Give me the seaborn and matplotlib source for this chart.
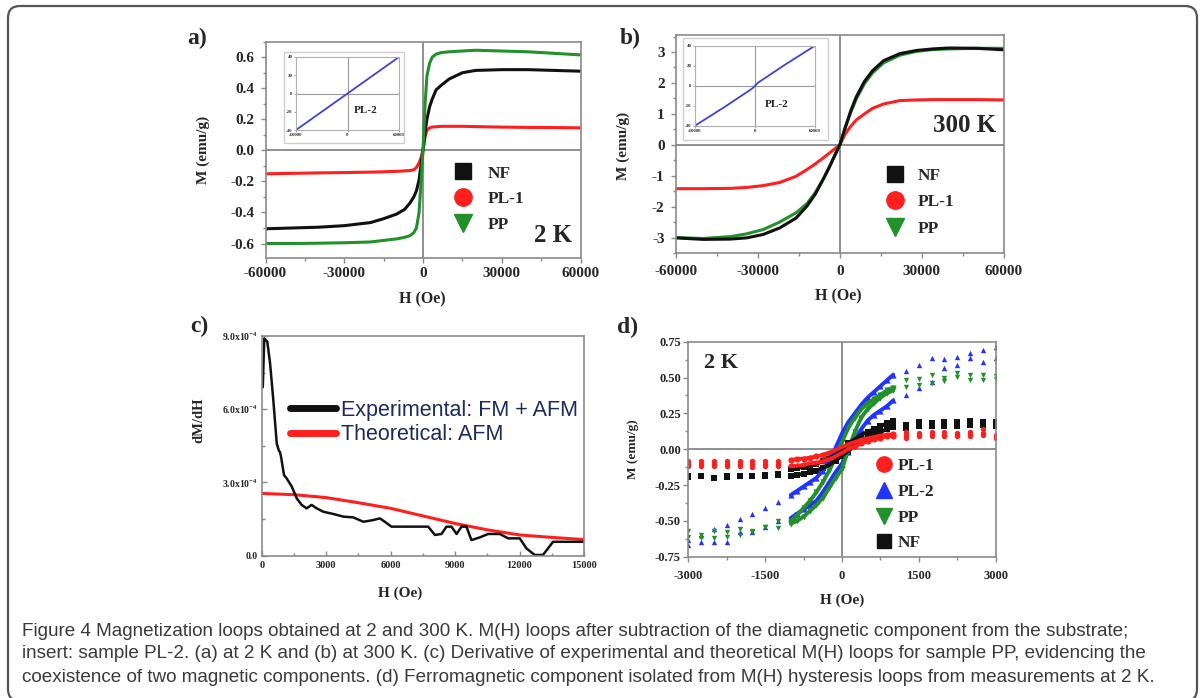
import numpy as np
import pandas as pd
import seaborn as sns
import matplotlib
matplotlib.use("Agg")
import matplotlib.pyplot as plt
from matplotlib.lines import Line2D
from matplotlib.patches import FancyBboxPatch
from matplotlib.ticker import MultipleLocator

# ---------------- DATA ----------------
# Panel a (2 K)
H_a = [-60000, -50000, -40000, -30000, -20000, -15000, -10000, -7000, -5000, -3500, -2500, -1500, -800, 0,
       800, 1500, 2500, 3500, 5000, 7000, 10000, 15000, 20000, 30000, 40000, 50000, 60000]
NF_a = [-0.505, -0.50, -0.495, -0.485, -0.465, -0.44, -0.41, -0.38, -0.34, -0.30, -0.26, -0.19, -0.10, 0.0,
        0.12, 0.20, 0.28, 0.33, 0.39, 0.42, 0.46, 0.50, 0.515, 0.52, 0.52, 0.515, 0.51]
PL1_a = [-0.151, -0.148, -0.145, -0.143, -0.14, -0.138, -0.135, -0.132, -0.13, -0.125, -0.11, -0.08, -0.05, 0.0,
         0.09, 0.13, 0.145, 0.15, 0.152, 0.155, 0.155, 0.155, 0.153, 0.15, 0.148, 0.147, 0.145]
PP_a = [-0.60, -0.60, -0.598, -0.595, -0.59, -0.58, -0.57, -0.56, -0.55, -0.53, -0.50, -0.40, -0.22, 0.0,
        0.30, 0.48, 0.56, 0.60, 0.62, 0.63, 0.635, 0.64, 0.645, 0.64, 0.635, 0.625, 0.615]
# inset (PL-2)
H_ins_a = [-60000, 0, 60000]
M_ins_a = [-40, 0, 40]

# Panel b (300 K)
H_b = [-60000, -50000, -40000, -34000, -28000, -22000, -16000, -12000, -9000, -6000, -4000, -2000, 0,
       2000, 4000, 6000, 9000, 12000, 16000, 22000, 28000, 34000, 40000, 50000, 60000]
NF_b = [-3.01, -3.06, -3.05, -3.01, -2.90, -2.69, -2.37, -1.98, -1.60, -1.10, -0.75, -0.37, 0.0,
        0.57, 1.10, 1.55, 2.05, 2.40, 2.72, 2.95, 3.05, 3.10, 3.13, 3.12, 3.07]
PL1_b = [-1.42, -1.42, -1.41, -1.38, -1.32, -1.22, -1.02, -0.80, -0.62, -0.42, -0.28, -0.14, 0.0,
         0.35, 0.60, 0.80, 1.00, 1.18, 1.32, 1.43, 1.45, 1.46, 1.46, 1.46, 1.45]
PP_b = [-3.00, -3.03, -2.97, -2.88, -2.74, -2.50, -2.20, -1.90, -1.55, -1.10, -0.75, -0.38, 0.0,
        0.55, 1.05, 1.48, 1.98, 2.33, 2.65, 2.90, 3.02, 3.08, 3.10, 3.12, 3.12]
H_ins_b = [-60000, -30000, -3000, 0, 3000, 30000, 60000]
M_ins_b = [-40, -21, -3, 0, 3, 21, 40]

# Panel c (PP derivative, units of 1e-4)
H_c = [0, 50, 120, 260, 390, 540, 700, 800, 850, 900, 1040, 1160, 1400, 1630, 1860, 2090, 2320, 2560, 2870,
       3330, 3800, 4260, 4730, 5190, 5500, 5730, 6040, 6740, 7750, 8060, 8370, 8600, 8830, 9070, 9300, 9530,
       9760, 10150, 10540, 11080, 11470, 12010, 12320, 12710, 13090, 13560, 15000]
dMdH_exp = [7.0, 6.9, 8.9, 8.77, 7.88, 6.38, 4.6, 4.3, 4.25, 4.05, 3.3, 3.17, 2.83, 2.35, 2.08, 1.94, 2.08, 1.94, 1.80,
            1.71, 1.60, 1.57, 1.39, 1.46, 1.53, 1.39, 1.19, 1.19, 1.19, 0.85, 0.89, 1.19, 1.19, 0.89, 1.19, 1.19,
            0.64, 0.75, 0.89, 0.89, 0.71, 0.71, 0.30, 0.03, 0.03, 0.57, 0.57]
H_c_th = [0, 1500, 3000, 4500, 6000, 7500, 9000, 10500, 12000, 13500, 15000]
dMdH_th = [2.55, 2.50, 2.38, 2.17, 1.94, 1.63, 1.32, 1.06, 0.85, 0.75, 0.66]
c_ytick_labels = ["0.0", r"3.0x10$^{\mathbf{-4}}$", r"6.0x10$^{\mathbf{-4}}$", r"9.0x10$^{\mathbf{-4}}$"]

# Panel d (2 K, ferromagnetic component)
H_in = [-1000, -875, -750, -625, -500, -375, -250, -125, 0, 125, 250, 375, 500, 625, 750, 875, 1000]
PL1_up = [-0.075, -0.07, -0.065, -0.06, -0.05, -0.04, -0.025, -0.005, 0.015, 0.035, 0.05, 0.065, 0.075, 0.085, 0.095, 0.10, 0.105]
PL1_low = [-0.12, -0.115, -0.11, -0.10, -0.095, -0.085, -0.07, -0.05, -0.025, 0.0, 0.02, 0.04, 0.055, 0.07, 0.08, 0.09, 0.095]
NF_up = [-0.14, -0.13, -0.125, -0.115, -0.10, -0.085, -0.065, -0.04, 0.0, 0.04, 0.07, 0.10, 0.12, 0.14, 0.16, 0.18, 0.20]
NF_low = [-0.185, -0.18, -0.17, -0.16, -0.15, -0.13, -0.11, -0.08, -0.045, -0.01, 0.03, 0.06, 0.085, 0.105, 0.12, 0.14, 0.155]
PL2_up = [-0.32, -0.29, -0.26, -0.23, -0.20, -0.15, -0.08, 0.01, 0.11, 0.19, 0.25, 0.31, 0.36, 0.40, 0.44, 0.48, 0.52]
PL2_low = [-0.48, -0.45, -0.42, -0.39, -0.36, -0.30, -0.23, -0.16, -0.10, -0.02, 0.06, 0.14, 0.20, 0.24, 0.27, 0.30, 0.34]
PP_up = [-0.50, -0.46, -0.41, -0.36, -0.30, -0.23, -0.15, -0.06, 0.05, 0.15, 0.22, 0.28, 0.32, 0.35, 0.38, 0.41, 0.43]
PP_low = [-0.52, -0.50, -0.47, -0.43, -0.39, -0.34, -0.27, -0.20, -0.14, 0.0, 0.12, 0.22, 0.28, 0.32, 0.36, 0.39, 0.41]

H_out = [-3000, -2750, -2500, -2250, -2000, -1750, -1500, -1250, 1250, 1500, 1750, 2000, 2250, 2500, 2750, 3000]
PL1_out1 = [-0.08, -0.08, -0.085, -0.08, -0.08, -0.08, -0.085, -0.08, 0.12, 0.11, 0.12, 0.12, 0.115, 0.12, 0.14, 0.10]
PL1_out2 = [-0.10, -0.10, -0.10, -0.105, -0.10, -0.10, -0.10, -0.10, 0.10, 0.10, 0.105, 0.10, 0.10, 0.105, 0.11, 0.09]
PL1_out3 = [-0.12, -0.12, -0.115, -0.12, -0.12, -0.125, -0.12, -0.12, 0.08, 0.09, 0.09, 0.09, 0.09, 0.09, 0.10, 0.08]
NF_out1 = [-0.19, -0.185, -0.20, -0.19, -0.185, -0.185, -0.18, -0.175, 0.17, 0.19, 0.18, 0.19, 0.19, 0.20, 0.19, 0.19]
NF_out2 = [-0.195, -0.19, -0.20, -0.195, -0.19, -0.19, -0.185, -0.18, 0.15, 0.16, 0.16, 0.16, 0.16, 0.17, 0.17, 0.16]
PL2_out1 = [-0.63, -0.60, -0.56, -0.53, -0.49, -0.45, -0.41, -0.37, 0.545, 0.59, 0.634, 0.627, 0.64, 0.67, 0.69, 0.714]
PL2_out2 = [-0.67, -0.65, -0.65, -0.65, -0.58, -0.58, -0.54, -0.50, 0.378, 0.43, 0.47, 0.564, 0.59, 0.634, 0.606, 0.634]
PP_out1 = [-0.57, -0.60, -0.57, -0.58, -0.56, -0.57, -0.54, -0.55, 0.48, 0.49, 0.52, 0.50, 0.53, 0.52, 0.52, 0.51]
PP_out2 = [-0.61, -0.62, -0.62, -0.61, -0.60, -0.58, -0.54, -0.50, 0.436, 0.45, 0.46, 0.475, 0.505, 0.48, 0.48, 0.49]

caption_lines = [
    "Figure 4 Magnetization loops obtained at 2 and 300 K. M(H) loops after subtraction of the diamagnetic component from the substrate;",
    "insert: sample PL-2. (a) at 2 K and (b) at 300 K. (c) Derivative of experimental and theoretical M(H) loops for sample PP, evidencing the",
    "coexistence of two magnetic components. (d) Ferromagnetic component isolated from M(H) hysteresis loops from measurements at 2 K.",
]

# ---------------- STYLE ----------------
sns.set_style("white")
plt.rcParams["font.family"] = ["Liberation Serif", "DejaVu Serif"]
plt.rcParams["font.weight"] = "bold"
plt.rcParams["axes.unicode_minus"] = False
plt.rcParams["mathtext.fontset"] = "custom"
plt.rcParams["mathtext.rm"] = "Liberation Serif:bold"
plt.rcParams["mathtext.bf"] = "Liberation Serif:bold"
plt.rcParams["mathtext.it"] = "Liberation Serif:italic:bold"

W, Hh = 1200, 698
C_BLACK = "#111111"
C_RED = "#ff1f1f"
C_GREEN = "#23912a"
C_BLUE = "#2233ff"
SPINE = "#8a8a8a"
ZERO = "#707070"

fig = plt.figure(figsize=(12, 6.98), dpi=100)
fig.patch.set_facecolor("white")


def rect(l, t, r, b):
    return [l / W, 1 - b / Hh, (r - l) / W, (b - t) / Hh]


def ftext(x, y, s, **kw):
    fig.text(x / W, 1 - y / Hh, s, **kw)


def style_axes(ax, xmaj, xmin, ymaj, ymin, fs, xpad, ypad, direction="out"):
    for sp in ax.spines.values():
        sp.set_color(SPINE)
        sp.set_linewidth(1.2)
        sp.set_visible(True)
    ax.xaxis.set_major_locator(MultipleLocator(xmaj))
    ax.xaxis.set_minor_locator(MultipleLocator(xmin))
    ax.yaxis.set_major_locator(MultipleLocator(ymaj))
    ax.yaxis.set_minor_locator(MultipleLocator(ymin))
    ax.tick_params(which="both", direction=direction, color=SPINE, width=1.0,
                   bottom=True, left=True, top=False, right=False)
    ax.tick_params(which="major", length=3.5)
    ax.tick_params(which="minor", length=2)
    ax.tick_params(axis="x", which="major", labelsize=fs, pad=xpad)
    ax.tick_params(axis="y", which="major", labelsize=fs, pad=ypad)
    ax.set_xlabel("")
    ax.set_ylabel("")


def line(ax, x, y, color, lw):
    sns.lineplot(x=x, y=y, ax=ax, color=color, lw=lw, sort=False, estimator=None, legend=False)


def inset(ax_rect_px, bg_px, H, M):
    l, t, r, b = bg_px
    fig.patches.append(FancyBboxPatch((l / W, 1 - b / Hh), (r - l) / W, (b - t) / Hh,
                                      boxstyle="square,pad=0", fc="white", ec="#cfcfcf", lw=1.0,
                                      transform=fig.transFigure, figure=fig, zorder=5))
    axi = fig.add_axes(rect(*ax_rect_px), zorder=6)
    axi.set_xlim(-60000, 60000)
    axi.set_ylim(-40, 40)
    axi.axhline(0, color="#9a9a9a", lw=0.8)
    axi.axvline(0, color="#9a9a9a", lw=0.8)
    line(axi, H, M, "#3a46d8", 1.3)
    for sp in axi.spines.values():
        sp.set_color("#b0b0b0")
        sp.set_linewidth(0.8)
    axi.set_xticks([-60000, 0, 60000])
    axi.set_yticks([-40, -20, 0, 20, 40])
    axi.set_xticklabels(["-60000", "0", "60000"])
    axi.set_yticklabels(["-40", "-20", "0", "20", "40"])
    axi.tick_params(labelsize=3.5, length=1.5, width=0.6, pad=1, color="#999999", labelcolor="#333333",
                    bottom=True, left=True, direction="out")
    axi.set_xlabel("")
    axi.set_ylabel("")
    axi.text(0.68, 0.27, "PL-2", transform=axi.transAxes, ha="center", va="center",
             fontsize=8, fontweight="bold")
    return axi


legend_font = {"family": "Liberation Serif", "weight": "bold", "size": 12.5}

# ---------------- PANEL a ----------------
ax = fig.add_axes(rect(265.5, 41.7, 580.5, 257.5))
ax.axhline(0, color=ZERO, lw=1.1, zorder=1)
ax.axvline(0, color=ZERO, lw=1.1, zorder=1)
line(ax, H_a, PL1_a, C_RED, 2.2)
line(ax, H_a, NF_a, C_BLACK, 2.2)
line(ax, H_a, PP_a, C_GREEN, 2.2)
ax.set_xlim(-60000, 60000)
ax.set_ylim(-0.69, 0.70)
style_axes(ax, 30000, 15000, 0.2, 0.1, 11, 3.0, 4.5)
ax.set_yticks([-0.6, -0.4, -0.2, 0.0, 0.2, 0.4, 0.6])
ax.set_yticklabels(["-0.6", "-0.4", "-0.2", "0.0", "0.2", "0.4", "0.6"])
hnd = [Line2D([], [], ls="", marker="s", ms=11.5, color=C_BLACK),
       Line2D([], [], ls="", marker="o", ms=12.5, color=C_RED),
       Line2D([], [], ls="", marker="v", ms=13, color=C_GREEN)]
ax.legend(hnd, ["NF", "PL-1", "PP"], loc="upper left", bbox_to_anchor=(0.600, 0.427), frameon=False,
          prop=legend_font, handlelength=1.0, handletextpad=0.9, labelspacing=0.55, borderpad=0,
          borderaxespad=0)
ax.text(0.975, 0.05, "2 K", transform=ax.transAxes, ha="right", va="bottom", fontsize=18, fontweight="bold")
inset((296, 57, 399, 130), (284, 52, 404, 143), H_ins_a, M_ins_a)

# ---------------- PANEL b ----------------
ax = fig.add_axes(rect(675.7, 35, 1004, 253))
ax.axhline(0, color=ZERO, lw=1.1, zorder=1)
ax.axvline(0, color=ZERO, lw=1.1, zorder=1)
line(ax, H_b, PL1_b, C_RED, 2.2)
line(ax, H_b, PP_b, C_GREEN, 2.2)
line(ax, H_b, NF_b, C_BLACK, 2.2)
ax.set_xlim(-60000, 60000)
ax.set_ylim(-3.5, 3.55)
style_axes(ax, 30000, 15000, 1, 0.5, 11, 5.0, 4.5)
ax.legend(hnd, ["NF", "PL-1", "PP"], loc="upper left", bbox_to_anchor=(0.643, 0.392), frameon=False,
          prop=legend_font, handlelength=1.0, handletextpad=0.8, labelspacing=0.6, borderpad=0,
          borderaxespad=0)
ax.text(0.975, 0.585, "300 K", transform=ax.transAxes, ha="right", va="center", fontsize=18, fontweight="bold")
inset((695, 45.7, 815, 125.7), (683, 38, 828, 140), H_ins_b, M_ins_b)

# ---------------- PANEL c ----------------
ax = fig.add_axes(rect(261.7, 336, 584, 555.7))
line(ax, H_c_th, dMdH_th, C_RED, 2.2)
line(ax, H_c, dMdH_exp, C_BLACK, 1.8)
ax.set_xlim(0, 15000)
ax.set_ylim(0, 9.0)
style_axes(ax, 3000, 1500, 3.0, 1.5, 7.5, 4.0, 2.5, direction="in")
ax.set_yticks([0, 3, 6, 9])
ax.set_yticklabels(c_ytick_labels, fontsize=7)
chnd = [Line2D([], [], color=C_BLACK, lw=5, solid_capstyle="round"),
        Line2D([], [], color=C_RED, lw=5, solid_capstyle="round")]
ax.legend(chnd, ["Experimental: FM + AFM", "Theoretical: AFM"], loc="upper left",
          bbox_to_anchor=(0.088, 0.709), frameon=False,
          prop={"family": "Liberation Sans", "weight": "normal", "size": 15.5}, labelcolor="#1c2a5e",
          handlelength=2.15, handletextpad=0.2, labelspacing=0.15, borderpad=0, borderaxespad=0)

# ---------------- PANEL d ----------------
ax = fig.add_axes(rect(688.3, 341.7, 995.7, 556.7))
ax.axhline(0, color=ZERO, lw=1.1, zorder=1)
ax.axvline(0, color=ZERO, lw=1.1, zorder=1)
series_d = [
    (PL2_up, PL2_low, [PL2_out1, PL2_out2], C_BLUE, "^"),
    (PP_up, PP_low, [PP_out1, PP_out2], C_GREEN, "v"),
    (NF_up, NF_low, [NF_out1, NF_out2], C_BLACK, "s"),
    (PL1_up, PL1_low, [PL1_out1, PL1_out2, PL1_out3], C_RED, "o"),
]
for up, low, outs, col, mk in series_d:
    for br in (up, low):
        line(ax, H_in, br, col, 2.8)
        sns.scatterplot(x=H_in, y=br, ax=ax, color=col, marker=mk, s=20, linewidth=0, legend=False)
    for o in outs:
        sns.scatterplot(x=H_out, y=o, ax=ax, color=col, marker=mk, s=15, linewidth=0, legend=False)
ax.set_xlim(-3000, 3000)
ax.set_ylim(-0.75, 0.75)
style_axes(ax, 1500, 750, 0.25, 0.125, 9, 6.0, 1.8)
ax.set_yticks([-0.75, -0.5, -0.25, 0, 0.25, 0.5, 0.75])
ax.set_yticklabels(["-0.75", "-0.50", "-0.25", "0.00", "0.25", "0.50", "0.75"])
dh = [Line2D([], [], ls="", marker="o", ms=11, color=C_RED),
      Line2D([], [], ls="", marker="^", ms=11, color=C_BLUE),
      Line2D([], [], ls="", marker="v", ms=11, color=C_GREEN),
      Line2D([], [], ls="", marker="s", ms=10, color=C_BLACK)]
ax.legend(dh, ["PL-1", "PL-2", "PP", "NF"], loc="upper left", bbox_to_anchor=(0.610, 0.458), frameon=False,
          prop=legend_font, handlelength=0.9, handletextpad=0.35, labelspacing=0.55, borderpad=0,
          borderaxespad=0)
ax.text(0.105, 0.90, "2 K", transform=ax.transAxes, ha="center", va="center", fontsize=16, fontweight="bold")

# ---------------- labels ----------------
lab_kw = dict(fontweight="bold", ha="center", va="center")
ftext(197, 38, "a)", fontsize=17, **lab_kw)
ftext(630, 38, "b)", fontsize=17, **lab_kw)
ftext(199, 326, "c)", fontsize=17, **lab_kw)
ftext(628, 327, "d)", fontsize=17, **lab_kw)

ftext(203, 150, "M (emu/g)", fontsize=11, rotation=90, **lab_kw)
ftext(623, 146, "M (emu/g)", fontsize=11, rotation=90, **lab_kw)
ftext(199, 420, "dM/dH", fontsize=10.5, rotation=90, **lab_kw)
ftext(633, 449, "M (emu/g)", fontsize=9.5, rotation=90, **lab_kw)

ftext(422.5, 299, "H (Oe)", fontsize=11.5, **lab_kw)
ftext(838, 296, "H (Oe)", fontsize=11.5, **lab_kw)
ftext(400, 593, "H (Oe)", fontsize=11, **lab_kw)
ftext(842, 600, "H (Oe)", fontsize=11, **lab_kw)

for i, s in enumerate(caption_lines):
    ftext(22, 631 + 23 * i, s, fontsize=13.6, family="Liberation Sans", fontweight="normal",
          color="#3a3a3a", ha="left", va="center")

# rounded outer frame
fig.patches.append(FancyBboxPatch((0.08, -0.03), 11.89, 6.95, boxstyle="round,pad=0,rounding_size=0.12",
                                  fc="none", ec="#555555", lw=1.6, transform=fig.dpi_scale_trans, figure=fig))

fig.savefig("out.png", dpi=100)
